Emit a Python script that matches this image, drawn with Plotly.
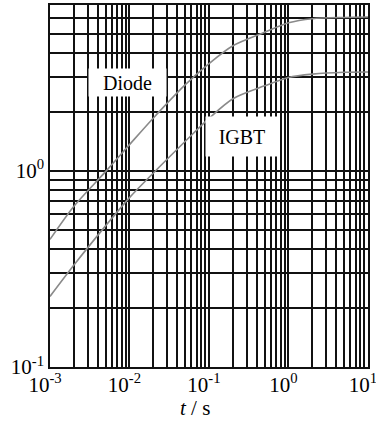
import plotly.graph_objects as go
import math

# Data (t in s)
t_vals = [1e-3, 2e-3, 5e-3, 1e-2, 2e-2, 5e-2, 0.1, 0.2, 0.5, 1, 2, 5, 10]
diode = [0.447, 0.66, 0.99, 1.36, 1.86, 2.74, 3.52, 4.34, 5.08, 5.68, 5.96, 6.05, 6.08]
igbt = [0.229, 0.331, 0.524, 0.73, 0.975, 1.41, 1.85, 2.33, 2.71, 2.99, 3.11, 3.18, 3.19]

x_major = [1e-3, 1e-2, 1e-1, 1e0, 1e1]
x_major_text = ["10<sup>-3</sup>", "10<sup>-2</sup>", "10<sup>-1</sup>", "10<sup>0</sup>", "10<sup>1</sup>"]
y_major = [1e-1, 1e0]
y_major_text = ["10<sup>-1</sup>", "10<sup>0</sup>"]

FONT = "Liberation Serif, Times New Roman, serif"

def grid_vals(lo_exp, hi_exp, top=None):
    vals = []
    for e in range(lo_exp, hi_exp):
        for m in range(1, 10):
            v = m * 10 ** e
            if top is None or v <= top + 1e-9:
                vals.append(v)
    return vals

def label_for(v, majors, texts):
    for m, t in zip(majors, texts):
        if abs(v - m) < 1e-12:
            return t
    return ""

xt = grid_vals(-3, 1) + [10]
yt = grid_vals(-1, 1, top=7)
xtext = [label_for(v, x_major, x_major_text) for v in xt]
ytext = [label_for(v, y_major, y_major_text) for v in yt]

fig = go.Figure()
for name, ys in [("Diode", diode), ("IGBT", igbt)]:
    fig.add_trace(go.Scatter(x=t_vals, y=ys, mode="lines", name=name,
                             line=dict(color="#8a8a8a", width=1.6, shape="spline", smoothing=0.8)))

fig.add_annotation(x=-2.025, y=0.45, xref="x", yref="y", text="Diode",
                   showarrow=False, bgcolor="white", width=75, height=25,
                   font=dict(family=FONT, size=20, color="black"))
fig.add_annotation(x=-0.585, y=0.174, xref="x", yref="y", text="IGBT",
                   showarrow=False, bgcolor="white", width=70, height=37,
                   font=dict(family=FONT, size=20, color="black"))
fig.add_annotation(x=0.456, y=-0.113, xref="paper", yref="paper", text="<i>t</i> / s",
                   showarrow=False, yanchor="middle",
                   font=dict(family=FONT, size=21, color="black"))

fig.update_layout(
    width=376, height=423,
    margin=dict(l=50, r=8, t=5, b=56, autoexpand=False),
    paper_bgcolor="white", plot_bgcolor="white",
    showlegend=False,
    font=dict(family=FONT, size=20, color="black"),
)
fig.update_xaxes(type="log", range=[-3, 1.0003], tickvals=xt, ticktext=xtext,
                 showgrid=True, gridcolor="#111", gridwidth=1.5,
                 showline=True, mirror=True, linecolor="#111", linewidth=1.5,
                 ticks="", tickfont=dict(family=FONT, size=21), automargin=False,
                 ticklabelstandoff=-2, ticklabelshift=-5, ticklabeloverflow="allow",
                 zeroline=False)
fig.update_yaxes(type="log", range=[-1, math.log10(7)], tickvals=yt, ticktext=ytext,
                 showgrid=True, gridcolor="#111", gridwidth=1.5,
                 showline=True, mirror=True, linecolor="#111", linewidth=1.5,
                 ticks="", tickfont=dict(family=FONT, size=21), automargin=False,
                 ticklabelstandoff=0, ticklabeloverflow="allow", zeroline=False)

fig.write_html("out.html", config={"displayModeBar": False},
               post_script="document.body.style.margin='0';")
